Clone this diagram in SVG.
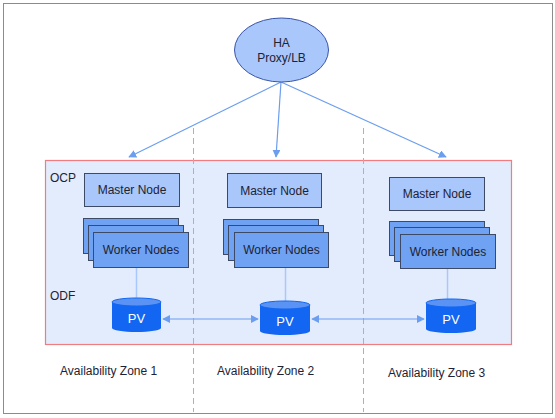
<svg xmlns="http://www.w3.org/2000/svg" width="555" height="418" viewBox="0 0 555 418">
<defs>
<marker id="ah" viewBox="0 0 10 10" refX="9" refY="5" markerWidth="8" markerHeight="8" markerUnits="userSpaceOnUse" orient="auto-start-reverse">
<path d="M0,0 L10,5 L0,10 z" fill="#6b9ef0"/>
</marker>
<style>
text{font-family:"Liberation Sans",Arial,sans-serif;font-size:12px;fill:#1e2233}
.lbl{text-anchor:middle}
.master{fill:#a9c7fa;stroke:#3d4a66;stroke-width:1}
.worker{fill:#6fa2f2;stroke:#3d4a66;stroke-width:1}
.conn{stroke:#6b9ef0;stroke-width:1.2;fill:none}
.link{stroke:#a9c7fa;stroke-width:1.5;fill:none}
.dash{stroke:#8fb4f2;stroke-width:1;stroke-dasharray:6,4;fill:none}
.pvbody{fill:#1266f1}
.pvtop{fill:#5a93f4;stroke:#1266f1;stroke-width:1}
.pvtxt{fill:#ffffff;font-size:13px;text-anchor:middle}
</style>
</defs>
<rect x="0" y="0" width="555" height="418" fill="#ffffff"/>
<rect x="3.5" y="3.5" width="549" height="410" fill="none" stroke="#8c8c8c" stroke-width="1"/>

<g id="container">
<rect x="45.5" y="160.5" width="466" height="184" fill="#e2ecfc" stroke="#f07b80" stroke-width="1.2"/>
<text x="50" y="182">OCP</text>
<text x="50" y="300">ODF</text>
</g>

<g id="dividers">
<line class="dash" x1="193.5" y1="128" x2="193.5" y2="412"/>
<line class="dash" x1="363.5" y1="128" x2="363.5" y2="412"/>
</g>

<g id="connectors">
<line class="conn" x1="281" y1="82" x2="129" y2="157" marker-end="url(#ah)"/>
<line class="conn" x1="281" y1="82" x2="276" y2="157" marker-end="url(#ah)"/>
<line class="conn" x1="281" y1="82" x2="446" y2="157" marker-end="url(#ah)"/>
<line class="link" x1="136.5" y1="267" x2="136.5" y2="302"/>
<line class="link" x1="285.5" y1="267" x2="285.5" y2="305"/>
<line class="link" x1="447.5" y1="268" x2="447.5" y2="303"/>
<line class="conn" x1="163" y1="319" x2="258" y2="319" marker-start="url(#ah)" marker-end="url(#ah)"/>
<line class="conn" x1="312" y1="319" x2="424" y2="319" marker-start="url(#ah)" marker-end="url(#ah)"/>
</g>

<g id="haproxy">
<ellipse cx="281.5" cy="50" rx="47" ry="32" fill="#a9c7fa" stroke="#3a55a8" stroke-width="1"/>
<text class="lbl" x="281.5" y="47">HA</text>
<text class="lbl" x="281.5" y="62">Proxy/LB</text>
</g>

<g id="master1"><rect class="master" x="84.5" y="173.5" width="95" height="33"/><text class="lbl" x="132" y="194">Master Node</text></g>
<g id="master2"><rect class="master" x="227.5" y="173.5" width="94" height="34"/><text class="lbl" x="274.5" y="195">Master Node</text></g>
<g id="master3"><rect class="master" x="389.5" y="177.5" width="95" height="33"/><text class="lbl" x="437" y="198">Master Node</text></g>

<g id="workers1">
<rect class="worker" x="83.5" y="218.5" width="95" height="35"/>
<rect class="worker" x="88.5" y="225.5" width="95" height="35"/>
<rect class="worker" x="93.5" y="232.5" width="95" height="35"/>
<text class="lbl" x="141" y="254">Worker Nodes</text>
</g>
<g id="workers2">
<rect class="worker" x="223.5" y="219.5" width="95" height="35"/>
<rect class="worker" x="228.5" y="225.5" width="95" height="35"/>
<rect class="worker" x="234.5" y="232.5" width="94" height="35"/>
<text class="lbl" x="281.5" y="254">Worker Nodes</text>
</g>
<g id="workers3">
<rect class="worker" x="389.5" y="221.5" width="95" height="34"/>
<rect class="worker" x="394.5" y="227.5" width="95" height="34"/>
<rect class="worker" x="400.5" y="234.5" width="95" height="34"/>
<text class="lbl" x="448" y="256">Worker Nodes</text>
</g>

<g id="pv1">
<path class="pvbody" d="M112,302 v26 a24.5,4 0 0 0 49,0 v-26 z"/>
<ellipse class="pvtop" cx="136.5" cy="302" rx="24.5" ry="4"/>
<text class="pvtxt" x="136.5" y="323">PV</text>
</g>
<g id="pv2">
<path class="pvbody" d="M260,305 v26 a25,4 0 0 0 50,0 v-26 z"/>
<ellipse class="pvtop" cx="285" cy="305" rx="25" ry="4"/>
<text class="pvtxt" x="285" y="326">PV</text>
</g>
<g id="pv3">
<path class="pvbody" d="M426,303 v26 a25,4 0 0 0 50,0 v-26 z"/>
<ellipse class="pvtop" cx="451" cy="303" rx="25" ry="4"/>
<text class="pvtxt" x="451" y="324">PV</text>
</g>

<g id="zones">
<text x="60" y="375">Availability Zone 1</text>
<text x="217" y="375">Availability Zone 2</text>
<text x="388" y="377">Availability Zone 3</text>
</g>
</svg>
